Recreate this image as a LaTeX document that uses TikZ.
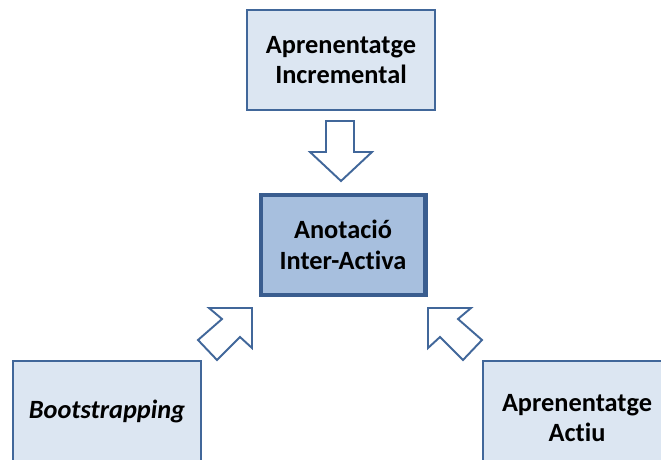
\documentclass[tikz,border=0pt]{standalone}
\usepackage{fontspec}
\setmainfont[Ligatures=NoCommon]{Carlito}
\begin{document}
\begin{tikzpicture}[x=0.02cm,y=-0.02cm,
  lightbox/.style={draw=boxedge,fill=boxfill,line width=1.1pt,minimum width=3.76cm,minimum height=2cm,inner sep=0pt},
  mainbox/.style={draw=mainedge,fill=mainfill,line width=2.3pt,minimum width=3.3cm,minimum height=2cm,inner sep=0pt},
  label/.style={font=\bfseries\fontsize{15}{17.3}\selectfont,align=center,text=black},
  blockarrow/.style={draw=boxedge,fill=white,line width=1.1pt,line join=miter}]
\definecolor{boxfill}{HTML}{DCE6F2}
\definecolor{boxedge}{HTML}{41679A}
\definecolor{mainfill}{HTML}{A7BFDE}
\definecolor{mainedge}{HTML}{3A5D8F}
\useasboundingbox (0,0) rectangle (661,459);
\clip (0,0) rectangle (661,459);

% boxes
\node[lightbox] (inc) at (341,60) {};
\node[label] at (inc) {Aprenentatge\\Incremental};
\node[mainbox] (ann) at (343,245) {};
\node[label] at (ann) {Anotació\\Inter-Activa};
\node[lightbox] (boot) at (107,411) {};
\node[label,font=\bfseries\itshape\fontsize{15}{17.3}\selectfont] at (boot) {Bootstrapping};
\node[lightbox] (act) at (577,411) {};
\node[label] at (577,418) {Aprenentatge\\Actiu};

% block arrows towards the central box
\draw[blockarrow] (326,121) -- (354,121) -- (354,152) -- (372,152) -- (341,181)
  -- (310,152) -- (326,152) -- cycle;
\draw[blockarrow] (252,308) -- (252,348) -- (240,337) -- (217,360) -- (198,340)
  -- (222,319) -- (209,308) -- cycle;
\draw[blockarrow] (428,308) -- (428,348) -- (440,337) -- (463,360) -- (482,340)
  -- (458,319) -- (471,308) -- cycle;
\end{tikzpicture}
\end{document}
